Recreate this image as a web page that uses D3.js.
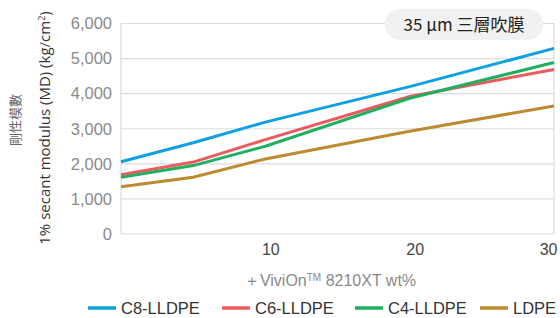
<!DOCTYPE html>
<html>
<head>
<meta charset="utf-8">
<script src="https://cdn.jsdelivr.net/npm/d3@7"></script>
<style>
  body { margin: 0; background: #fff; }
  svg { display: block; }
</style>
</head>
<body>
<script>
// data
var wtPct = [0, 5, 10, 20, 30];
var seriesNames = ["C8-LLDPE", "C6-LLDPE", "C4-LLDPE", "LDPE"];
var c8 = [2060, 2600, 3190, 4200, 5290];
var c6 = [1690, 2050, 2690, 3920, 4690];
var c4 = [1620, 1950, 2500, 3870, 4890];
var ldpe = [1350, 1620, 2140, 2930, 3650];
var yTicks = [0, 1000, 2000, 3000, 4000, 5000, 6000];
var xTicks = [10, 20, 30];
var colors = ["#0fa0e0", "#ec5a5e", "#1faf5f", "#bd8a32"];

var width = 560, height = 318;
var margin = {left: 121, right: 6, top: 23.5, bottom: 84};

var svg = d3.select("body").append("svg")
            .attr("width", width)
            .attr("height", height);

var x = d3.scaleLinear().domain([0, 30]).range([margin.left, width - margin.right]);
var y = d3.scaleLinear().domain([0, 6000]).range([height - margin.bottom, margin.top]);

// grid
svg.selectAll(".grid")
   .data(yTicks)
   .enter()
   .append("line")
   .attr("x1", x(0)).attr("x2", x(30))
   .attr("y1", function(d) { return y(d); })
   .attr("y2", function(d) { return y(d); })
   .style("stroke", "#dcdcdc")
   .style("stroke-width", 1.2);

// frame sides
svg.append("line")
   .attr("x1", x(0)).attr("x2", x(0))
   .attr("y1", y(0)).attr("y2", y(6000))
   .style("stroke", "#dcdcdc").style("stroke-width", 1.2);
svg.append("line")
   .attr("x1", x(30)).attr("x2", x(30))
   .attr("y1", y(0)).attr("y2", y(6000))
   .style("stroke", "#dcdcdc").style("stroke-width", 1.2);

// y axis labels
var yAxis = d3.axisLeft(y).tickValues(yTicks).tickSize(0).tickPadding(9)
              .tickFormat(d3.format(","));
var gy = svg.append("g").attr("transform", "translate(" + x(0) + ",0)").call(yAxis);
gy.select(".domain").remove();
gy.selectAll("text")
  .style("font-family", "'Liberation Sans', Arial, sans-serif")
  .style("font-size", "16.5px")
  .style("fill", "#8a8a8a");

// x axis labels
var xAxis = d3.axisBottom(x).tickValues(xTicks).tickSize(0).tickPadding(10);
var gx = svg.append("g").attr("transform", "translate(0," + y(0) + ")").call(xAxis);
gx.select(".domain").remove();
gx.selectAll("text")
  .style("font-family", "'Liberation Sans', Arial, sans-serif")
  .style("font-size", "16px")
  .style("fill", "#444")
  .attr("dx", function(d) { return d === 30 ? 3 : 5; })
  .attr("text-anchor", function(d) { return d === 30 ? "end" : "middle"; });

// lines
var allSeries = [c8, c6, c4, ldpe];
var line = d3.line()
             .x(function(d, i) { return x(wtPct[i]); })
             .y(function(d) { return y(d); });

svg.selectAll(".series")
   .data(allSeries)
   .enter()
   .append("path")
   .attr("d", line)
   .style("fill", "none")
   .style("stroke", function(d, i) { return colors[i]; })
   .style("stroke-width", 3);

// axis titles
svg.append("text")
   .attr("transform", "translate(20,120) rotate(-90)")
   .attr("text-anchor", "middle")
   .style("font-family", "'Noto Sans CJK TC', sans-serif")
   .style("font-size", "13px")
   .style("fill", "#666")
   .text("剛性模數");
svg.append("text")
   .attr("transform", "translate(50,128) rotate(-90)")
   .attr("text-anchor", "middle")
   .style("font-family", "'Open Sans', sans-serif")
   .style("font-size", "15px")
   .style("fill", "#333")
   .html("1% secant modulus (MD) (kg/cm<tspan dy='-5' font-size='9px'>2</tspan><tspan dy='5'>)</tspan>");

svg.append("text")
   .attr("x", 330).attr("y", 286)
   .attr("text-anchor", "middle")
   .style("font-family", "'Liberation Sans', Arial, sans-serif")
   .style("font-size", "16px")
   .style("fill", "#8a8a8a")
   .html("＋ViviOn<tspan dy='-5' font-size='10px'>TM</tspan><tspan dy='5'> 8210XT wt%</tspan>");

// title pill
svg.append("rect")
   .attr("x", 385).attr("y", 9)
   .attr("width", 158).attr("height", 31)
   .attr("rx", 15.5)
   .style("fill", "#f1f1f1");
svg.append("text")
   .attr("x", 464).attr("y", 31)
   .attr("text-anchor", "middle")
   .style("font-family", "'Noto Sans CJK TC', sans-serif")
   .style("font-size", "17px")
   .style("fill", "#222")
   .text("35 µm 三層吹膜");

// legend
var legendX = [88, 222, 355, 480];
var lg = svg.selectAll(".legend")
            .data(seriesNames)
            .enter()
            .append("g")
            .attr("transform", function(d, i) { return "translate(" + legendX[i] + ",308)"; });
lg.append("line")
  .attr("x1", 0).attr("x2", 28)
  .attr("y1", 0).attr("y2", 0)
  .style("stroke", function(d, i) { return colors[i]; })
  .style("stroke-width", 3.5);
lg.append("text")
  .attr("x", 33).attr("y", 6)
  .style("font-family", "'Liberation Sans', Arial, sans-serif")
  .style("font-size", "16.5px")
  .style("fill", "#333")
  .text(function(d) { return d; });
</script>
</body>
</html>
